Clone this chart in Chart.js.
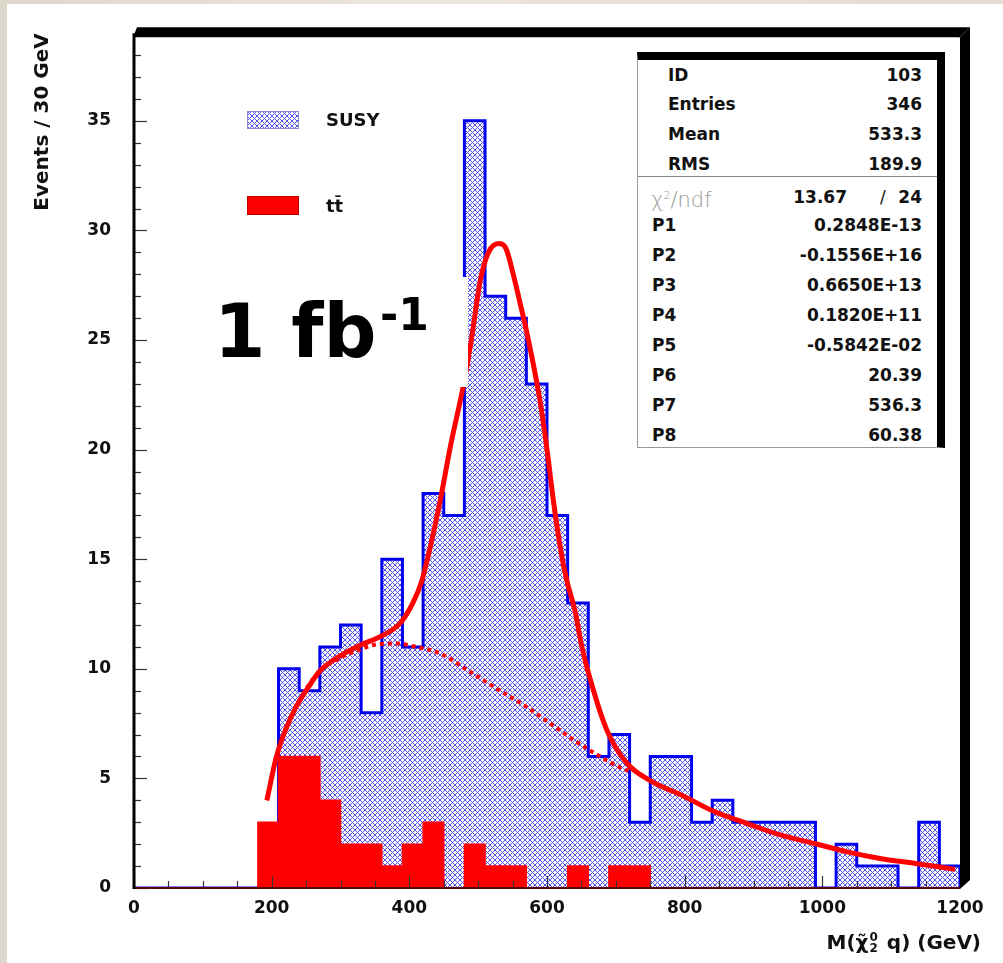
<!DOCTYPE html>
<html>
<head>
<meta charset="utf-8">
<script src="https://cdn.jsdelivr.net/npm/chart.js@4.4.1/dist/chart.umd.min.js"></script>
<style>
  html, body { margin: 0; padding: 0; }
  body { width: 1003px; height: 963px; position: relative; overflow: hidden;
         background: linear-gradient(90deg, #ddd8cb, #ebe6da 40%, #e2ddd0); font-family: "DejaVu Sans", sans-serif; }
  #page { position: absolute; left: 7px; top: 4px; right: 0; bottom: 0; background: #fff; }
  #wrap { position: absolute; left: 0; top: 0; width: 1003px; height: 963px; }
  .txt { position: absolute; font-weight: bold; color: #111; white-space: nowrap; line-height: 20px; }
  .val { text-align: right; }
  #stats { position: absolute; left: 637px; top: 52px; width: 299px; height: 387px;
           border-top: 8px solid #000; border-right: 8px solid #000;
           border-left: 1px solid #999; border-bottom: 1px solid #999; background: #fff; }
  #statsDiv { position: absolute; left: 638px; top: 176px; width: 299px; height: 0; border-top: 1px solid #888; }
  #lumiBox { position: absolute; left: 215px; top: 277px; width: 253px; height: 110px; background: #fff; }
  .big { position: absolute; font-weight: bold; color: #000; line-height: 1; white-space: nowrap; }
  #xtitle { position: absolute; right: 22px; top: 928px; font-size: 20px; font-weight: bold; color: #111; white-space: nowrap; line-height: 28px; }
  .stack { display: inline-block; vertical-align: middle; font-size: 12px; line-height: 11px; margin: 0 2px 0 1px; position: relative; top: -1px; }
  .stack span { display: block; }
</style>
</head>
<body>
<div id="page"></div>
<div id="wrap"><canvas id="c" width="1003" height="963"></canvas></div>

<canvas id="swSusy" width="52" height="18" style="position:absolute;left:247px;top:111px;"></canvas>
<div class="txt" style="left:326px;top:110px;font-size:18px;">SUSY</div>
<div style="position:absolute;left:247px;top:196px;width:50px;height:17px;background:#f00;border:1px solid #b00;"></div>
<div class="txt" style="left:326px;top:196px;font-size:18px;">tt̄</div>

<div id="stats"></div>
<div id="statsDiv"></div>
<div id="statsText"></div>

<div id="lumiBox"></div>
<div class="big" style="left:214px;top:294px;font-size:74px;">1 fb</div>
<div class="big" style="left:380px;top:293px;font-size:44px;">-1</div>

<div id="xtitle">M(χ̃<span class="stack"><span>0</span><span>2</span></span> q) (GeV)</div>

<script>
// bin lower edges (GeV), 30 GeV bins from 0 to 1200
const binLow = [0, 30, 60, 90, 120, 150, 180, 210, 240, 270, 300, 330, 360, 390, 420, 450, 480, 510, 540, 570,
                600, 630, 660, 690, 720, 750, 780, 810, 840, 870, 900, 930, 960, 990, 1020, 1050, 1080, 1110, 1140, 1170];
const binHigh = 1200;

// SUSY events per bin
const susyCounts = [0, 0, 0, 0, 0, 0, 0, 10, 9, 11, 12, 8, 15, 11, 18, 17, 35, 27, 26, 23,
                    17, 13, 6, 7, 3, 6, 6, 3, 4, 3, 3, 3, 3, 0, 2, 1, 1, 0, 3, 1];
// ttbar events per bin
const ttCounts = [0, 0, 0, 0, 0, 0, 3, 6, 6, 4, 2, 2, 1, 2, 3, 0, 2, 1, 1, 0,
                  0, 1, 0, 1, 1, 0, 0, 0, 0, 0, 0, 0, 0, 0, 0, 0, 0, 0, 0, 0];

// full fit (solid red)
const fitMass = [193, 207, 220, 236, 250, 270, 300, 330, 360, 387, 405, 418, 430, 445, 460, 479, 490, 503, 515, 530,
                 540, 551, 560, 571, 590, 600, 610, 620, 629, 641, 650, 663, 687, 716, 750, 798, 842, 890, 939, 987,
                 1036, 1084, 1133, 1193];
const fitEvents = [4.0, 6.0, 7.2, 8.3, 9.0, 9.9, 10.6, 11.1, 11.5, 12.1, 13.0, 14.0, 15.5, 17.7, 20.2, 23.0, 25.0, 27.7, 29.0, 29.4,
                   29.2, 28.0, 26.8, 25.3, 22.2, 20.0, 17.5, 15.4, 14.0, 12.6, 11.1, 9.5, 7.2, 5.7, 4.9, 4.2, 3.5, 2.95, 2.42, 2.04,
                   1.65, 1.35, 1.13, 0.85];

// background part of the fit (dotted red)
const bgMass = [193, 207, 236, 270, 300, 330, 350, 380, 410, 445, 484, 532, 571, 605, 639, 677, 706, 722];
const bgEvents = [4.0, 6.0, 8.3, 9.9, 10.5, 10.9, 11.1, 11.15, 11.0, 10.7, 9.95, 9.0, 8.25, 7.5, 6.75, 6.0, 5.5, 5.3];

// stats box
const statNames = ['ID', 'Entries', 'Mean', 'RMS'];
const statValues = ['103', '346', '533.3', '189.9'];
const chi2 = '13.67', ndf = '24';
const parNames = ['P1', 'P2', 'P3', 'P4', 'P5', 'P6', 'P7', 'P8'];
const parValues = ['0.2848E-13', '-0.1556E+16', '0.6650E+13', '0.1820E+11', '-0.5842E-02', '20.39', '536.3', '60.38'];

const yTicksMajor = 5;

function stepPoints(counts) {
    let pts = [];
    counts.forEach((c, i) => pts.push({x: binLow[i], y: c}));
    pts.push({x: binHigh, y: counts[counts.length - 1]});
    pts.push({x: binHigh, y: 0});
    return pts;
}

function makeHatch(ctx) {
    let tile = document.createElement('canvas');
    tile.width = 5; tile.height = 5;
    let g = tile.getContext('2d');
    g.fillStyle = '#fff';
    g.fillRect(0, 0, 5, 5);
    g.fillStyle = '#5252ec';
    for (let i = 0; i < 5; i++) {
        g.fillRect(i, i, 1, 1);
        g.fillRect(4 - i, i, 1, 1);
    }
    return ctx.createPattern(tile, 'repeat');
}

const canvas = document.getElementById('c');
const ctx = canvas.getContext('2d');
const hatch = makeHatch(ctx);

// legend swatch
const sw = document.getElementById('swSusy').getContext('2d');
sw.fillStyle = makeHatch(sw);
sw.fillRect(0, 0, 52, 18);
sw.strokeStyle = '#8a8ad0';
sw.strokeRect(0.5, 0.5, 51, 17);

// stats text
let statsHtml = '';
const topRowsY = [75, 104, 134, 164];
statNames.forEach((n, i) => {
    statsHtml += `<div class="txt" style="left:668px;top:${topRowsY[i] - 10}px;font-size:17px;">${n}</div>`;
    statsHtml += `<div class="txt val" style="left:700px;width:222px;top:${topRowsY[i] - 10}px;font-size:17px;">${statValues[i]}</div>`;
});
statsHtml += `<div class="txt" style="left:651px;top:186px;font-size:21px;font-weight:200;color:#999;">χ<sup style="font-size:11px;">2</sup>/ndf</div>`;
statsHtml += `<div class="txt val" style="left:780px;width:67px;top:187px;font-size:17px;">${chi2}</div>`;
statsHtml += `<div class="txt" style="left:880px;top:187px;font-size:17px;font-weight:normal;">/</div>`;
statsHtml += `<div class="txt val" style="left:880px;width:42px;top:187px;font-size:17px;">${ndf}</div>`;
parNames.forEach((n, i) => {
    let y = 225 + i * 30 - 10;
    statsHtml += `<div class="txt" style="left:652px;top:${y}px;font-size:17px;">${n}</div>`;
    statsHtml += `<div class="txt val" style="left:700px;width:222px;top:${y}px;font-size:17px;">${parValues[i]}</div>`;
});
document.getElementById('statsText').innerHTML = statsHtml;

// axes ticks + ROOT style frame
const framePlugin = {
    id: 'frame',
    afterDatasetsDraw(chart) {
        const {ctx, chartArea: {left, right, top, bottom}, scales: {x, y}} = chart;
        ctx.save();
        ctx.strokeStyle = '#333';
        ctx.lineWidth = 1.2;
        for (let v = 0; v <= 1200; v += 50) {
            let px = Math.round(x.getPixelForValue(v)) + 0.5;
            let len = v % 200 === 0 ? 12 : 7;
            ctx.beginPath(); ctx.moveTo(px, bottom); ctx.lineTo(px, bottom - len); ctx.stroke();
        }
        for (let v = 0; v < y.max; v++) {
            let py = Math.round(y.getPixelForValue(v)) + 0.5;
            let len = v % yTicksMajor === 0 ? 13 : 7;
            ctx.beginPath(); ctx.moveTo(left, py); ctx.lineTo(left + len, py); ctx.stroke();
        }
        // bottom + left axis
        ctx.strokeStyle = '#5a0808';
        ctx.lineWidth = 2;
        ctx.beginPath(); ctx.moveTo(left, bottom); ctx.lineTo(right, bottom); ctx.stroke();
        ctx.strokeStyle = '#000';
        ctx.lineWidth = 3;
        ctx.beginPath(); ctx.moveTo(left, top); ctx.lineTo(left, bottom + 1); ctx.stroke();
        // thick top / right border
        ctx.fillStyle = '#000';
        ctx.beginPath();
        ctx.moveTo(left - 1, top + 4); ctx.lineTo(left + 3, top - 6); ctx.lineTo(right + 10, top - 6);
        ctx.lineTo(right, top + 4); ctx.closePath(); ctx.fill();
        ctx.beginPath();
        ctx.moveTo(right, top + 4); ctx.lineTo(right + 10, top - 6); ctx.lineTo(right + 10, bottom - 8);
        ctx.lineTo(right, bottom + 1); ctx.closePath(); ctx.fill();
        ctx.restore();
    }
};

const tickFont = {family: 'DejaVu Sans', weight: 'bold', size: 17};

new Chart(ctx, {
    type: 'line',
    data: {
        datasets: [
            {
                label: 'fit',
                data: fitMass.map((m, i) => ({x: m, y: fitEvents[i]})),
                borderColor: '#f00',
                borderWidth: 5,
                pointRadius: 0,
                cubicInterpolationMode: 'monotone',
                fill: false,
                order: 0
            },
            {
                label: 'background',
                data: bgMass.map((m, i) => ({x: m, y: bgEvents[i]})),
                borderColor: '#f00',
                borderWidth: 4,
                borderDash: [4, 4],
                pointRadius: 0,
                cubicInterpolationMode: 'monotone',
                fill: false,
                order: 1
            },
            {
                label: 'tt',
                data: stepPoints(ttCounts),
                stepped: 'before',
                fill: 'origin',
                backgroundColor: '#f00',
                borderColor: '#f00',
                borderWidth: 1.5,
                pointRadius: 0,
                order: 2
            },
            {
                label: 'SUSY',
                data: stepPoints(susyCounts),
                stepped: 'before',
                fill: 'origin',
                backgroundColor: hatch,
                borderColor: '#0000ee',
                borderWidth: 3,
                pointRadius: 0,
                order: 3
            }
        ]
    },
    options: {
        responsive: false,
        animation: false,
        events: [],
        layout: {padding: {left: 0, right: 43, top: 32, bottom: 0}},
        plugins: {legend: {display: false}, tooltip: {enabled: false}},
        scales: {
            x: {
                type: 'linear',
                min: 0, max: 1200,
                grid: {display: false, drawTicks: false},
                border: {display: false},
                ticks: {stepSize: 200, font: tickFont, color: '#111', padding: 10, maxRotation: 0, includeBounds: false,
                        callback: v => String(v)},
                afterFit: s => { s.height = 75; }
            },
            y: {
                min: 0, max: 39,
                grid: {display: false, drawTicks: false},
                border: {display: false},
                ticks: {stepSize: 5, font: tickFont, color: '#111', padding: 23, includeBounds: false,
                        callback: v => String(v)},
                title: {
                    display: true,
                    text: 'Events / 30 GeV',
                    align: 'end',
                    color: '#111',
                    font: {family: 'DejaVu Sans', weight: 'bold', size: 20},
                    padding: {top: 31, bottom: 0}
                },
                afterFit: s => { s.width = 134; }
            }
        }
    },
    plugins: [framePlugin]
});
</script>
</body>
</html>
